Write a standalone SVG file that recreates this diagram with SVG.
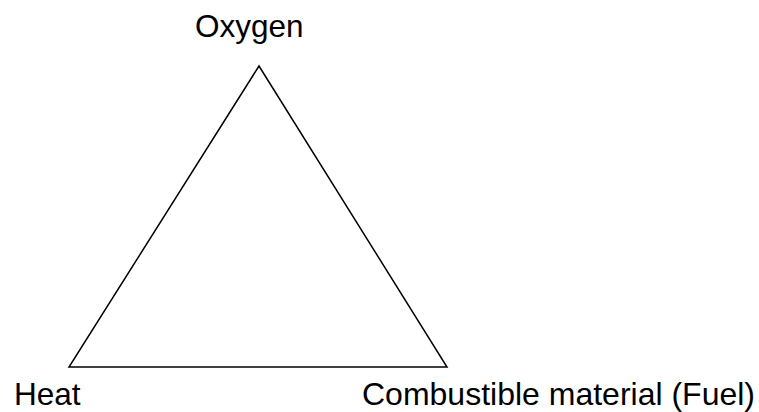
<svg xmlns="http://www.w3.org/2000/svg" width="759" height="412" viewBox="0 0 759 412">
<style>
.lbl{font-family:"Liberation Sans",Arial,sans-serif;font-size:31.5px;fill:#000}
.edge{fill:none;stroke:#000;stroke-width:1.5}
</style>
<rect width="759" height="412" fill="#fff"/>
<g id="connectors">
<polygon class="edge" points="259,66 69,367 447,367"/>
</g>
<g id="oxygen"><text class="lbl" x="195" y="36.5">Oxygen</text></g>
<g id="heat"><text class="lbl" x="14" y="405">Heat</text></g>
<g id="fuel"><text class="lbl" x="362" y="405" style="font-size:32px">Combustible material (Fuel)</text></g>
</svg>
